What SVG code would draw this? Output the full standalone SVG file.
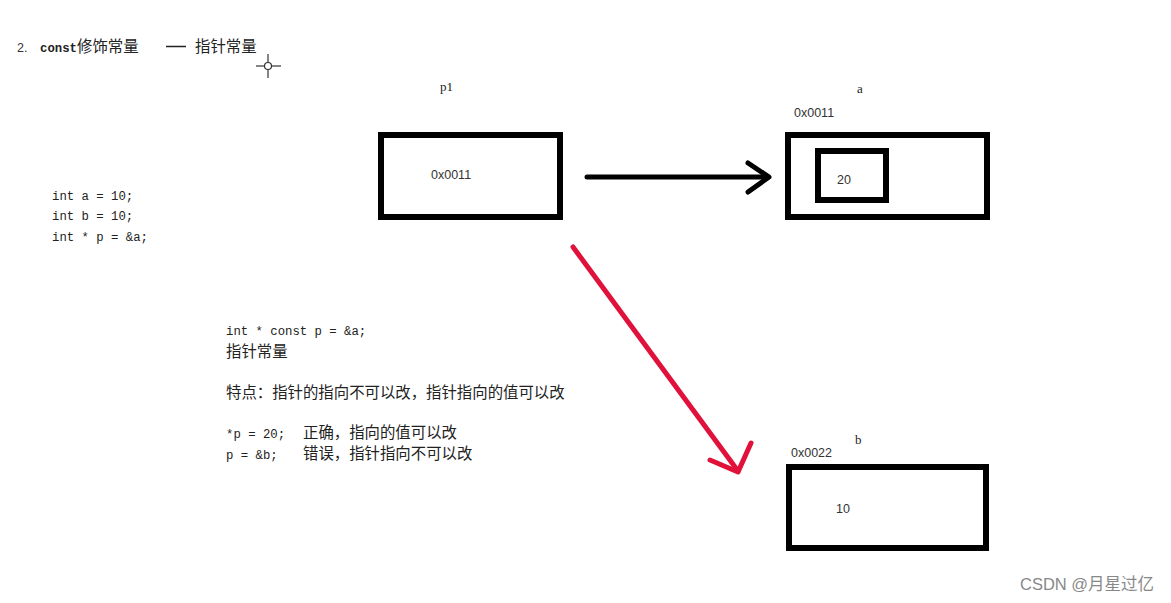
<svg xmlns="http://www.w3.org/2000/svg" width="1171" height="603" viewBox="0 0 1171 603">
<style>
.box{fill:none;stroke:#000;stroke-width:6}
.mono{font-family:"Liberation Mono","Noto Sans CJK SC",monospace;font-size:12.3px;fill:#222}
.cn{font-family:"Noto Sans CJK SC","Liberation Sans",sans-serif;font-size:15.4px;fill:#222}
.lbl{font-family:"Liberation Sans","Noto Sans CJK SC",sans-serif;font-size:12.5px;fill:#333}
.ser{font-family:"Liberation Serif",serif;font-size:13px;fill:#222}
</style>
<rect width="1171" height="603" fill="#fff"/>
<g id="title">
<text x="17" y="52" class="lbl" font-size="13">2.</text>
<text x="40" y="52" class="mono" font-weight="bold" font-size="12">const</text>
<text x="77" y="52" class="cn">修饰常量</text>
<line x1="166" y1="46.5" x2="186" y2="46.5" stroke="#222" stroke-width="1.5"/>
<text x="195" y="52" class="cn">指针常量</text>
</g>
<g id="cursor" stroke="#333" stroke-width="1.2" fill="none">
<circle cx="268" cy="66" r="3.5"/>
<line x1="256" y1="66" x2="264.5" y2="66"/><line x1="271.5" y1="66" x2="281" y2="66"/>
<line x1="268" y1="54" x2="268" y2="62.5"/><line x1="268" y1="69.5" x2="268" y2="78"/>
</g>
<g id="code1">
<text x="52" y="200" class="mono">int a = 10;</text>
<text x="52" y="220" class="mono">int b = 10;</text>
<text x="52" y="241" class="mono">int * p = &amp;a;</text>
</g>
<g id="notes">
<text x="226" y="335" class="mono">int * const p = &amp;a;</text>
<text x="226" y="357" class="cn">指针常量</text>
<text x="226" y="398" class="cn">特点：指针的指向不可以改，指针指向的值可以改</text>
<text x="226" y="438" class="mono">*p = 20;</text>
<text x="303" y="438" class="cn">正确，指向的值可以改</text>
<text x="226" y="459" class="mono">p = &amp;b;</text>
<text x="303" y="459" class="cn">错误，指针指向不可以改</text>
</g>
<g id="p1">
<text x="440" y="91" class="ser">p1</text>
<rect x="381" y="135" width="179" height="82" class="box"/>
<text x="431" y="179" class="lbl">0x0011</text>
</g>
<g id="a">
<text x="857" y="93" class="ser" font-size="12">a</text>
<text x="794" y="117" class="lbl">0x0011</text>
<rect x="788" y="135" width="199" height="82" class="box"/>
<rect x="818" y="151" width="68" height="49" class="box"/>
<text x="837" y="184" class="lbl" font-size="13">20</text>
</g>
<g id="b">
<text x="855" y="444" class="ser">b</text>
<text x="791" y="457" class="lbl">0x0022</text>
<rect x="789" y="467" width="197" height="81" class="box"/>
<text x="836" y="513" class="lbl" font-size="13">10</text>
</g>
<g id="connectors" fill="none" stroke-linecap="round" stroke-linejoin="round" stroke-width="5">
<g stroke="#000">
<line x1="587" y1="177" x2="768" y2="177"/>
<polyline points="748,163 769,177 748,192"/>
</g>
<g stroke="#e0123c">
<line x1="573" y1="247" x2="738" y2="471"/>
<polyline points="710,460 738,472 751,443"/>
</g>
</g>
<text x="1020" y="590" font-family="Liberation Sans,Noto Sans CJK SC,sans-serif" font-size="16.5" fill="#888">CSDN @月星过亿</text>
</svg>
